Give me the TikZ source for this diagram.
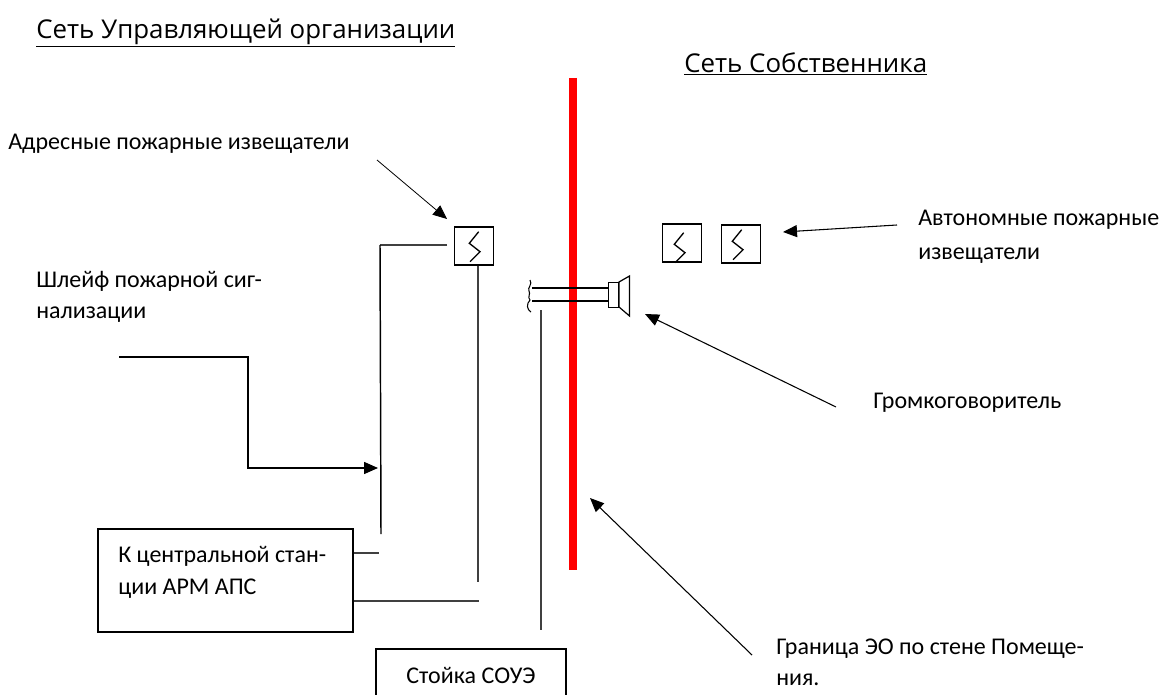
\documentclass[tikz,border=0pt]{standalone}
\usepackage{fontspec}
\setmainfont{Carlito}
\newfontfamily\headfont{Open Sans}
\usetikzlibrary{arrows.meta,calc}
\tikzset{>={Triangle[length=10.5pt,width=9pt]},
every node/.style={font=\fontsize{18}{23.5}\selectfont,inner sep=0pt},
txt/.style={anchor=west,align=left},
head/.style={anchor=west,font=\headfont\fontsize{19.4}{22}\selectfont},
pointer/.style={->,line width=.8pt},
wire/.style={line width=.8pt,black!75},
izv/.style={draw,line width=1pt,minimum width=29pt,minimum height=28.5pt},
block/.style={draw,line width=1.1pt}}
\newcommand{\Zig}[2]{\draw[line width=1pt] ($(#1)+(#2)$)+(4.7,-14.3)--+(-4.7,-2.7)--+(6,5.7)--+(-4,15.7);}

\begin{document}
\begin{tikzpicture}[x=.75pt,y=-.75pt]
\useasboundingbox (0,0) rectangle (1163,695);
\node[head] (titleUO) at (36,33){\underline{Сеть Управляющей организации}};
\node[head] (titleOwner) at (684,64){\underline{Сеть Собственника}};
\draw[red,line width=6pt] (573,78)--(573,570);
% izveshchateli
\node[izv] (izvA) at (474,246){};\Zig{izvA}{0,0}
\node[izv] (izvB) at (682,243){};\Zig{izvB}{-3,4}
\node[izv] (izvC) at (741,244){};\Zig{izvC}{-4,0}
% gromkogovoritel
\node[draw,line width=1pt,minimum width=7.5pt,minimum height=19pt] (amp) at (613.5,295){};
\draw[line width=.9pt] (619,282)--(629.5,276)--(629.5,316)--(619,307)--cycle;
\draw[line width=1.4pt] (618.5,282)--(618.5,307);
\coordinate (wireUp) at (532,288);\coordinate (wireDn) at (532,301);
\draw[line width=.9pt] (wireUp)--(amp.west |- wireUp);\draw[line width=.9pt] (wireDn)--(amp.west |- wireDn);
\draw[line width=.8pt] (530,280) .. controls (533,284) and (527,288) .. (529,291) .. controls (531,294) and (527,297) .. (530,300) .. controls (526,304) and (527,310) .. (531,312);
% bloki
\node[block,minimum width=191.25pt,minimum height=77pt] (arm) at (225.5,580.5){};
\node[block,minimum width=142.5pt,minimum height=39pt] (soue) at (471,675){Стойка СОУЭ};
\node[txt] (armText) at (118,572.5){К центральной стан-\\ции АРМ АПС};
% provoda
\coordinate (busTop) at (380,245);\coordinate (busEnd) at (381,534);\coordinate (izvIn) at (447,245);
\coordinate (stub) at (379,553);\coordinate (loopEnd) at (478,582);\coordinate (armOut) at (479,601);
\coordinate (soueTop) at (541,310);\coordinate (soueEnd) at (541,630);
\draw[wire] (izvIn)--(busTop);\draw[line width=1.1pt] (busTop)--(busEnd);
\draw[wire] (arm.east |- stub)--(stub);
\draw[wire] (izvA.south -| loopEnd)--(loopEnd);
\draw[wire] (arm.east |- armOut)--(armOut);
\draw[wire] (soueTop)--(soueEnd);
% podpisi
\node[txt] (adrText) at (8,144){Адресные пожарные извещатели};
\node[txt] (avtText) at (918,237){Автономные пожарные\\[2pt]извещатели};
\node[txt] (shlText) at (36,297){Шлейф пожарной сиг-\\нализации};
\node[txt] (grText) at (873,403){Громкоговоритель};
\node[txt] (graText) at (776,662){Граница ЭО по стене Помеще-\\ния.};
% strelki
\coordinate (adrFrom) at (377,160);\coordinate (adrTo) at (447,219);
\coordinate (avtFrom) at (897,225);\coordinate (avtTo) at (783,232);
\coordinate (grFrom) at (836,407);\coordinate (grTo) at (645,314);
\coordinate (graFrom) at (752,655);\coordinate (graTo) at (590,498);
\coordinate (shlFrom) at (119,357);\coordinate (shlTo) at (378,468);
\draw[pointer,line width=.6pt] (adrFrom)--(adrTo);\draw[pointer] (avtFrom)--(avtTo);
\draw[pointer] (grFrom)--(grTo);\draw[pointer] (graFrom)--(graTo);
\draw[pointer,line width=1.1pt] (shlFrom)--(248,357)--(248,468)--(shlTo);
\end{tikzpicture}
\end{document}
